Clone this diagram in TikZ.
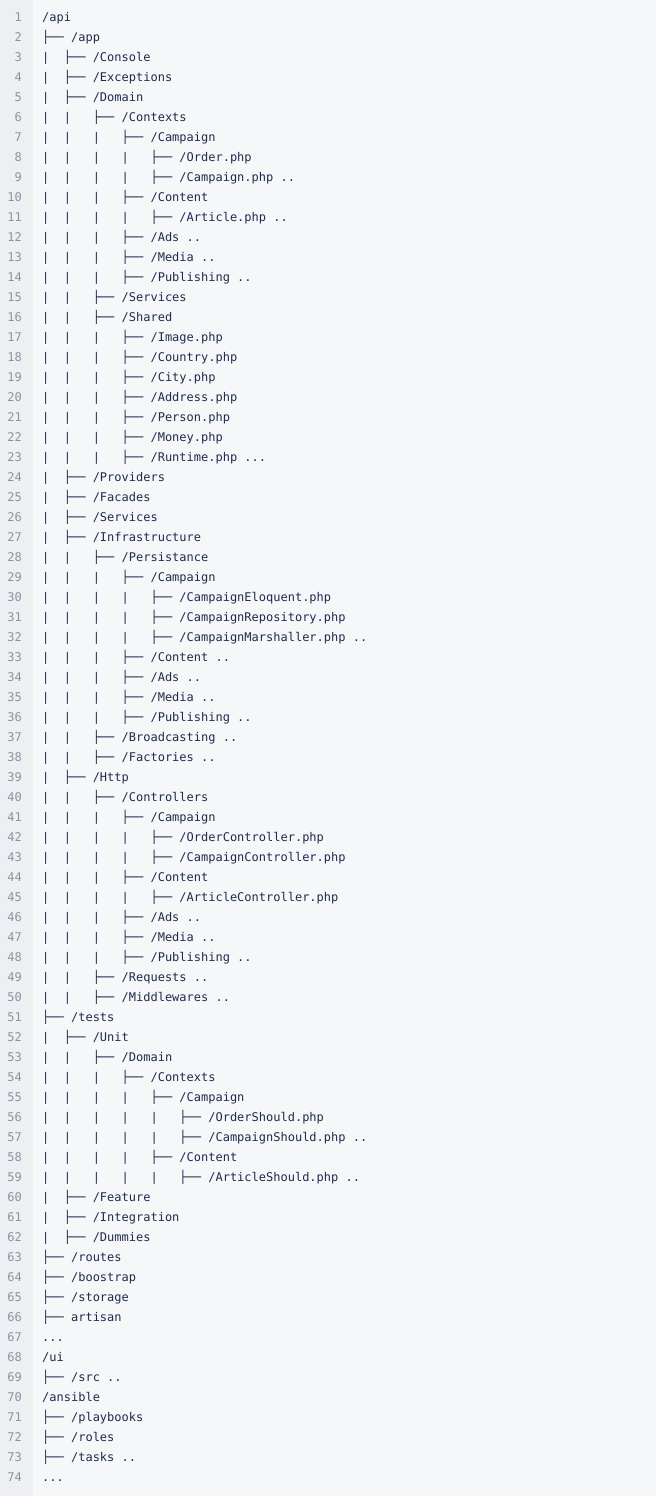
\documentclass[tikz,border=0pt]{standalone}
\usepackage{fontspec}
\setmonofont{DejaVu Sans Mono}
\definecolor{bgmain}{HTML}{F6F7F9}
\definecolor{bggut}{HTML}{EDEFF3}
\definecolor{txt}{HTML}{1E2B4D}
\definecolor{num}{HTML}{8A93A6}
\newcommand\msp{\hphantom{a}}
\newcommand\mypipe{|\msp\msp\msp}
\newcommand\mypre[1]{\ifcase#1\or ├──\msp\or |\msp\msp├──\msp\or |\msp\msp\mypipe├──\msp\or |\msp\msp\mypipe\mypipe├──\msp\or |\msp\msp\mypipe\mypipe\mypipe├──\msp\or |\msp\msp\mypipe\mypipe\mypipe\mypipe├──\msp\fi}
\tikzset{code/.style={anchor=west,inner sep=0pt,text=txt,font=\ttfamily\fontsize{12}{14}\selectfont,text height=9pt,text depth=2.5pt},
lnum/.style={anchor=east,inner sep=0pt,text=num,font=\ttfamily\fontsize{12}{14}\selectfont,text height=9pt,text depth=2.5pt}}
\newcommand\row[3]{\node[lnum] (n#1) at (22pt,{-(18+20*(#1-1))*1pt}) {#1};
\node[code] (l#1) at (42pt,{-(18+20*(#1-1))*1pt}) {\mypre{#2}#3};}
\begin{document}
\begin{tikzpicture}
\fill[bgmain] (0,0) rectangle (656pt,-1496pt);
\fill[bggut] (0,0) rectangle (33pt,-1496pt);
\useasboundingbox (0,0) rectangle (656pt,-1496pt);
\row{1}{0}{/api}
\row{2}{1}{/app}
\row{3}{2}{/Console}
\row{4}{2}{/Exceptions}
\row{5}{2}{/Domain}
\row{6}{3}{/Contexts}
\row{7}{4}{/Campaign}
\row{8}{5}{/Order.php}
\row{9}{5}{/Campaign.php ..}
\row{10}{4}{/Content}
\row{11}{5}{/Article.php ..}
\row{12}{4}{/Ads ..}
\row{13}{4}{/Media ..}
\row{14}{4}{/Publishing ..}
\row{15}{3}{/Services}
\row{16}{3}{/Shared}
\row{17}{4}{/Image.php}
\row{18}{4}{/Country.php}
\row{19}{4}{/City.php}
\row{20}{4}{/Address.php}
\row{21}{4}{/Person.php}
\row{22}{4}{/Money.php}
\row{23}{4}{/Runtime.php ...}
\row{24}{2}{/Providers}
\row{25}{2}{/Facades}
\row{26}{2}{/Services}
\row{27}{2}{/Infrastructure}
\row{28}{3}{/Persistance}
\row{29}{4}{/Campaign}
\row{30}{5}{/CampaignEloquent.php}
\row{31}{5}{/CampaignRepository.php}
\row{32}{5}{/CampaignMarshaller.php ..}
\row{33}{4}{/Content ..}
\row{34}{4}{/Ads ..}
\row{35}{4}{/Media ..}
\row{36}{4}{/Publishing ..}
\row{37}{3}{/Broadcasting ..}
\row{38}{3}{/Factories ..}
\row{39}{2}{/Http}
\row{40}{3}{/Controllers}
\row{41}{4}{/Campaign}
\row{42}{5}{/OrderController.php}
\row{43}{5}{/CampaignController.php}
\row{44}{4}{/Content}
\row{45}{5}{/ArticleController.php}
\row{46}{4}{/Ads ..}
\row{47}{4}{/Media ..}
\row{48}{4}{/Publishing ..}
\row{49}{3}{/Requests ..}
\row{50}{3}{/Middlewares ..}
\row{51}{1}{/tests}
\row{52}{2}{/Unit}
\row{53}{3}{/Domain}
\row{54}{4}{/Contexts}
\row{55}{5}{/Campaign}
\row{56}{6}{/OrderShould.php}
\row{57}{6}{/CampaignShould.php ..}
\row{58}{5}{/Content}
\row{59}{6}{/ArticleShould.php ..}
\row{60}{2}{/Feature}
\row{61}{2}{/Integration}
\row{62}{2}{/Dummies}
\row{63}{1}{/routes}
\row{64}{1}{/boostrap}
\row{65}{1}{/storage}
\row{66}{1}{artisan}
\row{67}{0}{...}
\row{68}{0}{/ui}
\row{69}{1}{/src ..}
\row{70}{0}{/ansible}
\row{71}{1}{/playbooks}
\row{72}{1}{/roles}
\row{73}{1}{/tasks ..}
\row{74}{0}{...}
\end{tikzpicture}
\end{document}
